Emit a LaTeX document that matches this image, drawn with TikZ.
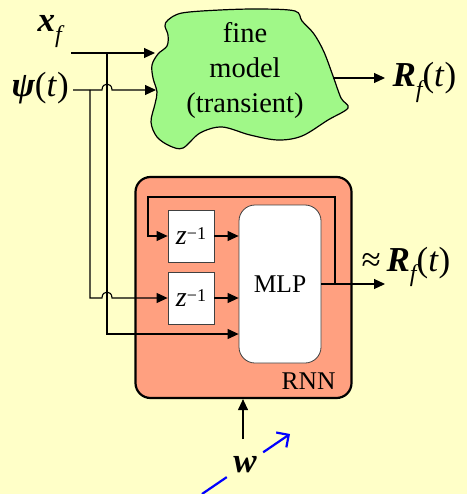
\documentclass[tikz,border=0pt]{standalone}
\usepackage{fontspec}
\setmainfont{Liberation Serif}
\usetikzlibrary{arrows.meta}
\definecolor{bg}{RGB}{255,255,200}
\definecolor{blobgreen}{RGB}{160,248,136}
\definecolor{rnnfill}{RGB}{255,160,128}
\newcommand{\bivar}[1]{{\bfseries\itshape #1}}
\newcommand{\subf}{\raisebox{-0.3em}{\fontsize{24}{24}\selectfont\itshape f}}
\newcommand{\zinv}{{\fontsize{28}{28}\selectfont\itshape z}\raisebox{0.5em}{\fontsize{18}{18}\selectfont −1}}
\begin{document}
\begin{tikzpicture}[x=1pt,y=-1pt,line width=1.1pt,
  >={Triangle[length=11pt,width=10pt]},
  conn/.style={draw,->},
  lab/.style={inner sep=0pt,font=\fontsize{35}{35}\selectfont},
  zbox/.style={draw=black!75,line width=0.8pt,fill=white,minimum width=46pt,minimum height=52pt,inner sep=0pt},
  mlpbox/.style={draw=black!75,line width=0.8pt,fill=white,rounded corners=16pt,minimum width=82pt,minimum height=158pt,inner sep=0pt,font=\fontsize{25.5}{25.5}\selectfont},
  rnnbox/.style={draw=black,line width=2.2pt,fill=rnnfill,rounded corners=15pt,minimum width=216pt,minimum height=221pt,inner sep=0pt}]
\fill[bg] (0,0) rectangle (467,494);
\useasboundingbox (0,0) rectangle (467,494);
% fine model blob
\draw[fill=blobgreen,line width=1.2pt] plot[smooth cycle,tension=0.55] coordinates {
 (168,20) (182,13) (220,10) (260,9) (295,11) (302,21) (314,34) (324,52) (333,76) (341,98) (348,108)
 (328,120) (302,136) (278,140) (250,135) (222,127) (200,133) (183,148) (170,146) (157,137)
 (151,122) (155,104) (157,92) (153,78) (152,65) (158,54) (167,46) (168,35) (165,26)};
\node[align=center,font=\fontsize{28.5}{35}\selectfont,inner sep=0pt] (fm) at (245,71) {fine\\model\\(transient)};
% RNN
\node[rnnbox] (rnn) at (243.5,287.5) {};
\node[anchor=base east,inner sep=0pt,font=\fontsize{25.5}{25.5}\selectfont] (rnnlab) at (336,389) {RNN};
\node[zbox] (z1) at (191,236) {\zinv};
\node[zbox] (z2) at (191,298) {\zinv};
\node[mlpbox] (mlp) at (280,284) {MLP};
% labels
\node[lab,anchor=base west] (xf) at (37,32) {\bivar{x}\subf};
\node[lab,anchor=base west] (psi) at (11,97) {\bivar{ψ}(\textit{t})};
\node[lab,anchor=base west] (rf) at (392,87) {\bivar{R}\subf(\textit{t})};
\node[lab,anchor=base west] (rf2) at (361,271) {≈\,\bivar{R}\subf(\textit{t})};
\node[lab,anchor=base] (w) at (245,472) {\bivar{w}};
% coordinates
\coordinate (xfs) at (71,53);
\coordinate (xfj) at (107,53);
\coordinate (fmin1) at (155,53);
\coordinate (psis) at (73,90);
\coordinate (psij) at (90,90);
\coordinate (fmin2) at (156,90);
\coordinate (fmout) at (333,78);
\coordinate (rfend) at (385,78);
\coordinate (mlpin3) at (mlp.west |- 0,334);
\coordinate (fbj) at (335,284);
\coordinate (outend) at (385,284);
\coordinate (wstart) at (243,439);
\coordinate (bla) at (202,494);
\coordinate (blb) at (290,434);
% connectors
\draw[conn] (xfs) -- (fmin1);
\draw[conn] (psis) -- (102,90) .. controls (102,82) and (112,82) .. (112,90) -- (fmin2);
\draw[conn] (xfj) -- (107,334) -- (mlpin3);
\draw[conn] (psij) -- (90,298) -- (102,298) .. controls (102,290) and (112,290) .. (112,298) -- (z2.west);
\draw[conn] (fmout) -- (rfend);
\draw[conn] (z1.east) -- (z1.east -| mlp.west);
\draw[conn] (z2.east) -- (z2.east -| mlp.west);
\draw[conn] (mlp.east |- fbj) -- (outend);
\draw[conn] (fbj) -- (335,197) -- (148,197) -- (148,236) -- (z1.west);
\draw[conn] (wstart) -- (rnn.south -| wstart);
\draw[blue,line width=2.2pt,dash pattern=on 30pt off 44pt,-{Straight Barb[length=9pt,width=18pt]}] (bla) -- (blb);
\end{tikzpicture}
\end{document}
